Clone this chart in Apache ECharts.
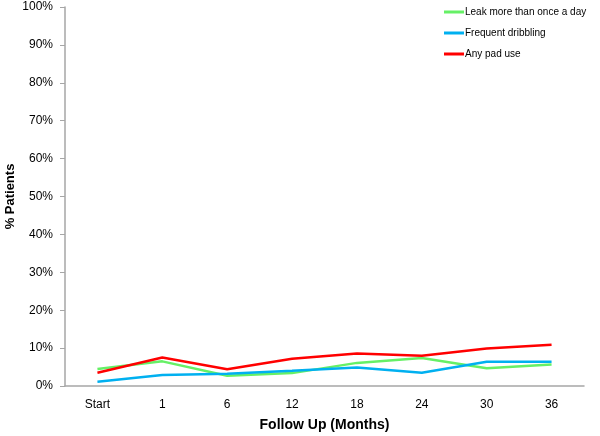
<!DOCTYPE html>
<html>
<head>
<meta charset="utf-8">
<script src="https://cdn.jsdelivr.net/npm/echarts@6/dist/echarts.min.js"></script>
<style>
  html, body { margin: 0; padding: 0; background: #fff; }
  #chart { width: 600px; height: 436px; }
</style>
</head>
<body>
<div id="chart"></div>
<script>
// categories + values (% patients)
var months = ['Start', '1', '6', '12', '18', '24', '30', '36'];
var leakMore = [4.5, 6.5, 2.7, 3.4, 6.1, 7.4, 4.7, 5.7];
var dribbling = [1.1, 2.9, 3.2, 4.0, 4.9, 3.5, 6.4, 6.4];
var padUse = [3.5, 7.5, 4.4, 7.2, 8.6, 8.0, 9.9, 10.9];

var axisGrey = '#a6a6a6';
var font = 'Liberation Sans';

echarts.init(document.getElementById('chart')).setOption({
  animation: false,
  textStyle: { fontFamily: font },
  grid: { left: 65, right: 16, top: 7, bottom: 50, outerBoundsMode: 'none', containLabel: false },
  legend: {
    orient: 'vertical',
    left: 439,
    top: 2,
    itemWidth: 20,
    itemHeight: 3,
    itemGap: 11,
    icon: 'path://M0 0 H20 V3 H0 Z',
    textStyle: { fontSize: 10, color: '#000', padding: [0, 0, 0, -4] },
    data: ['Leak more than once a day', 'Frequent dribbling', 'Any pad use']
  },
  xAxis: {
    type: 'category',
    data: months,
    boundaryGap: true,
    name: 'Follow Up (Months)',
    nameLocation: 'middle',
    nameGap: 32,
    nameMoveOverlap: false,
    nameTextStyle: { fontSize: 14, fontWeight: 'bold', color: '#000' },
    axisLine: { lineStyle: { color: axisGrey, width: 1.5 } },
    axisTick: { show: false },
    axisLabel: { fontSize: 12, color: '#000', margin: 13 }
  },
  yAxis: {
    type: 'value',
    min: 0,
    max: 100,
    interval: 10,
    name: '% Patients',
    nameLocation: 'middle',
    nameGap: 48,
    nameMoveOverlap: false,
    nameTextStyle: { fontSize: 13, fontWeight: 'bold', color: '#000' },
    axisLine: { show: true, lineStyle: { color: axisGrey, width: 1.5 } },
    axisTick: { show: true, length: 5, lineStyle: { color: axisGrey } },
    splitLine: { show: false },
    axisLabel: { fontSize: 12, color: '#000', margin: 12, formatter: '{value}%' }
  },
  series: [
    {
      name: 'Leak more than once a day',
      type: 'line',
      data: leakMore,
      symbol: 'none',
      lineStyle: { color: '#66f066', width: 2.5 },
      itemStyle: { color: '#66f066' }
    },
    {
      name: 'Frequent dribbling',
      type: 'line',
      data: dribbling,
      symbol: 'none',
      lineStyle: { color: '#00b0f0', width: 2.5 },
      itemStyle: { color: '#00b0f0' }
    },
    {
      name: 'Any pad use',
      type: 'line',
      data: padUse,
      symbol: 'none',
      lineStyle: { color: '#ff0000', width: 2.5 },
      itemStyle: { color: '#ff0000' }
    }
  ]
});
</script>
</body>
</html>
